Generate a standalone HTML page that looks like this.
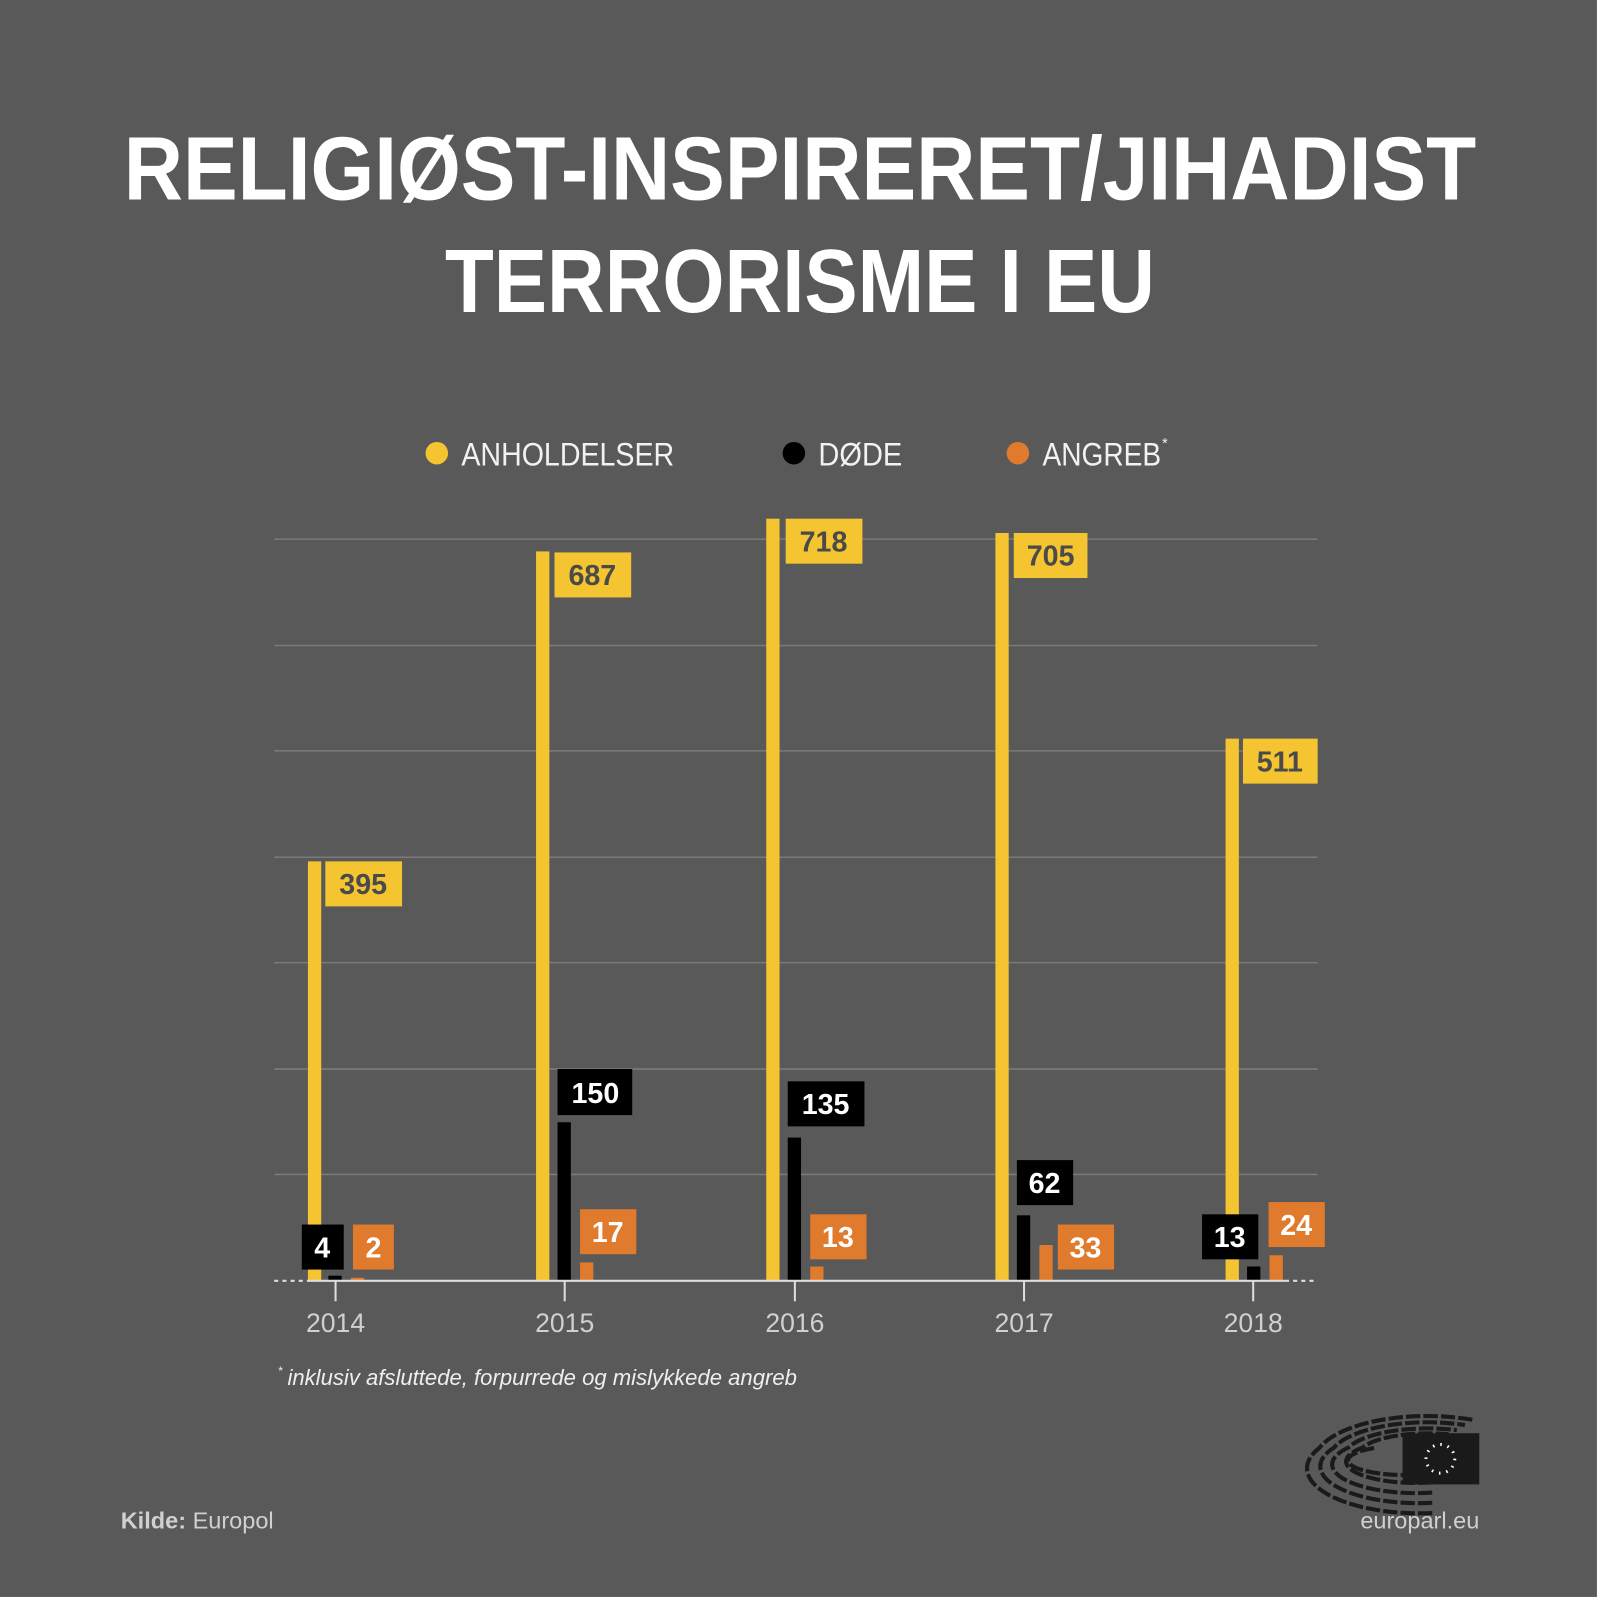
<!DOCTYPE html>
<html><head><meta charset="utf-8"><style>
html,body{margin:0;padding:0;background:#fff}
svg{display:block}
</style></head><body>
<svg width="1600" height="1600" viewBox="0 0 1564 1564" xmlns="http://www.w3.org/2000/svg" font-family="Liberation Sans, sans-serif">
<rect x="0" y="0" width="1561" height="1561" fill="#595959"/>
<text x="782" y="195" text-anchor="middle" fill="#fff" font-weight="bold" font-size="88" textLength="1322" lengthAdjust="spacingAndGlyphs">RELIGIØST-INSPIRERET/JIHADIST</text>
<text x="782" y="305" text-anchor="middle" fill="#fff" font-weight="bold" font-size="88" textLength="694" lengthAdjust="spacingAndGlyphs">TERRORISME I EU</text>
<g font-size="32" fill="#f2f2f2">
<circle cx="427" cy="443" r="11" fill="#f5c431"/><text x="451" y="455" textLength="208" lengthAdjust="spacingAndGlyphs">ANHOLDELSER</text>
<circle cx="776" cy="443" r="11" fill="#000"/><text x="800" y="455" textLength="82" lengthAdjust="spacingAndGlyphs">DØDE</text>
<circle cx="995" cy="443" r="11" fill="#e07a2c"/><text x="1019" y="455" textLength="116" lengthAdjust="spacingAndGlyphs">ANGREB</text><text x="1136" y="438" font-size="14">*</text>
</g>
<g stroke="#7a7a7a" stroke-width="1.5">
<line x1="268" x2="1288" y1="527" y2="527"/><line x1="268" x2="1288" y1="631" y2="631"/><line x1="268" x2="1288" y1="734" y2="734"/><line x1="268" x2="1288" y1="838" y2="838"/><line x1="268" x2="1288" y1="941" y2="941"/><line x1="268" x2="1288" y1="1045" y2="1045"/><line x1="268" x2="1288" y1="1148" y2="1148"/>
</g>
<g fill="#f5c431">
<rect x="301" y="842" width="13" height="410"/>
<rect x="524" y="539" width="13" height="713"/>
<rect x="749" y="507" width="13" height="745"/>
<rect x="973" y="521" width="13" height="731"/>
<rect x="1198" y="722" width="13" height="530"/>
</g>
<g fill="#000">
<rect x="321" y="1247" width="13" height="5"/>
<rect x="545" y="1097" width="13" height="155"/>
<rect x="770" y="1112" width="13" height="140"/>
<rect x="994" y="1188" width="13" height="64"/>
<rect x="1219" y="1238" width="13" height="14"/>
</g>
<g fill="#e07a2c">
<rect x="343" y="1249" width="13" height="3"/>
<rect x="567" y="1234" width="13" height="18"/>
<rect x="792" y="1238" width="13" height="14"/>
<rect x="1016" y="1217" width="13" height="35"/>
<rect x="1241" y="1227" width="13" height="25"/>
</g>
<line x1="268" x2="1288" y1="1252" y2="1252" stroke="#ddd" stroke-width="2"/>
<line x1="268" x2="300" y1="1252" y2="1252" stroke="#595959" stroke-width="3"/>
<line x1="268" x2="300" y1="1252" y2="1252" stroke="#ddd" stroke-width="2" stroke-dasharray="4 4"/>
<line x1="1256" x2="1288" y1="1252" y2="1252" stroke="#595959" stroke-width="3"/>
<line x1="1256" x2="1288" y1="1252" y2="1252" stroke="#ddd" stroke-width="2" stroke-dasharray="4 4"/>
<g stroke="#ddd" stroke-width="2">
<line x1="328" x2="328" y1="1252" y2="1272"/><line x1="552" x2="552" y1="1252" y2="1272"/><line x1="777" x2="777" y1="1252" y2="1272"/><line x1="1001" x2="1001" y1="1252" y2="1272"/><line x1="1225" x2="1225" y1="1252" y2="1272"/>
</g>
<g fill="#d0d0d0" font-size="26" text-anchor="middle">
<text x="328" y="1302">2014</text><text x="552" y="1302">2015</text><text x="777" y="1302">2016</text><text x="1001" y="1302">2017</text><text x="1225" y="1302">2018</text>
</g>
<g font-weight="bold" font-size="28" text-anchor="middle">
<rect x="318" y="842" width="75" height="44" fill="#f5c431"/><text x="355" y="874" fill="#4a4a4a">395</text>
<rect x="542" y="540" width="75" height="44" fill="#f5c431"/><text x="579" y="572" fill="#4a4a4a">687</text>
<rect x="768" y="507" width="75" height="44" fill="#f5c431"/><text x="805" y="539" fill="#4a4a4a">718</text>
<rect x="991" y="521" width="72" height="44" fill="#f5c431"/><text x="1027" y="553" fill="#4a4a4a">705</text>
<rect x="1215" y="722" width="73" height="44" fill="#f5c431"/><text x="1251" y="754" fill="#4a4a4a">511</text>
<rect x="295" y="1197" width="41" height="44" fill="#000"/><text x="315" y="1229" fill="#fff">4</text>
<rect x="545" y="1045" width="73" height="45" fill="#000"/><text x="582" y="1078" fill="#fff">150</text>
<rect x="770" y="1057" width="75" height="44" fill="#000"/><text x="807" y="1089" fill="#fff">135</text>
<rect x="994" y="1134" width="55" height="44" fill="#000"/><text x="1021" y="1166" fill="#fff">62</text>
<rect x="1175" y="1187" width="55" height="44" fill="#000"/><text x="1202" y="1219" fill="#fff">13</text>
<rect x="345" y="1197" width="40" height="44" fill="#e07a2c"/><text x="365" y="1229" fill="#fff">2</text>
<rect x="567" y="1182" width="55" height="44" fill="#e07a2c"/><text x="594" y="1214" fill="#fff">17</text>
<rect x="792" y="1187" width="55" height="44" fill="#e07a2c"/><text x="819" y="1219" fill="#fff">13</text>
<rect x="1034" y="1197" width="55" height="44" fill="#e07a2c"/><text x="1061" y="1229" fill="#fff">33</text>
<rect x="1240" y="1175" width="55" height="44" fill="#e07a2c"/><text x="1267" y="1207" fill="#fff">24</text>
</g>
<text x="272" y="1344" font-size="12" fill="#eee">*</text>
<text x="281" y="1354" font-size="22" font-style="italic" fill="#eee" textLength="498" lengthAdjust="spacingAndGlyphs">inklusiv afsluttede, forpurrede og mislykkede angreb</text>
<text x="118" y="1494" font-size="23" fill="#d0d0d0"><tspan font-weight="bold">Kilde:</tspan> Europol</text>
<text x="1446" y="1494" font-size="23" fill="#d0d0d0" text-anchor="end">europarl.eu</text>
<g fill="none" stroke="#1a1a1a" stroke-width="4" stroke-dasharray="14 3">
<path d="M1400 1479 A110 44 0 0 1 1290 1415 A110 44 0 0 1 1440 1388"/>
<path d="M1400 1469 A96 36 0 0 1 1304 1415 A96 36 0 0 1 1432 1393"/>
<path d="M1400 1459 A82 28 0 0 1 1318 1415 A82 28 0 0 1 1424 1398"/>
<path d="M1400 1449 A68 21 0 0 1 1332 1415 A68 21 0 0 1 1416 1402"/>
<path d="M1400 1440 A54 14 0 0 1 1346 1415"/>
</g>
<rect x="1371" y="1401" width="75" height="50" fill="#1a1a1a"/>
<circle cx="1408" cy="1426" r="14" fill="none" stroke="#fff" stroke-width="3" stroke-dasharray="1.5 5.8"/>
</svg>
</body></html>
